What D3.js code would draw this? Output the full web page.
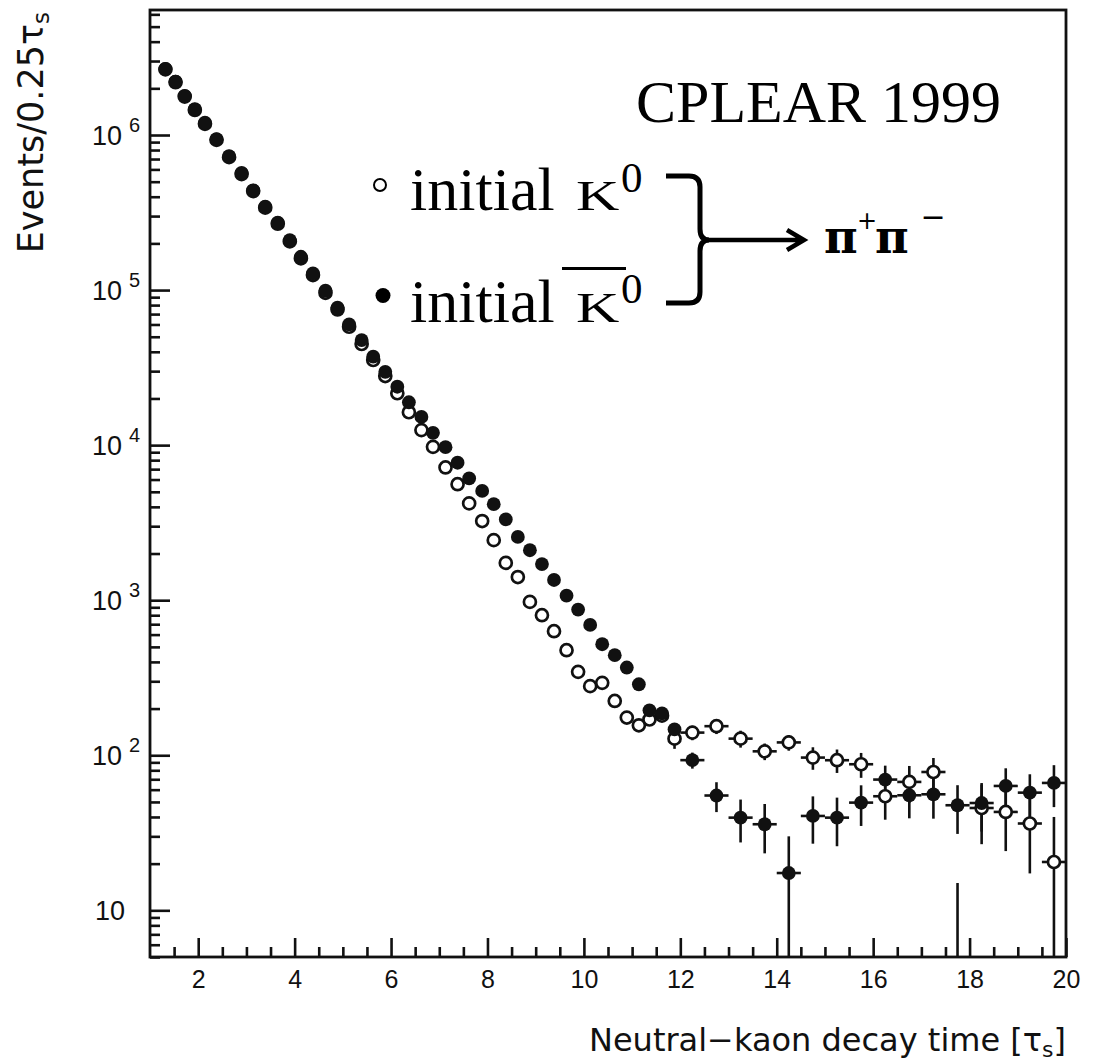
<!DOCTYPE html>
<html><head><meta charset="utf-8">
<script src="https://cdn.jsdelivr.net/npm/d3@7"></script>
<style>html,body{margin:0;padding:0;background:#fff}</style>
</head><body>
<svg id="chart" width="1097" height="1063"></svg>
<script>
// ---- data ----
const times = [
  1.32, 1.53, 1.72, 1.93, 2.14, 2.38, 2.64, 2.90, 3.14, 3.39,
  3.65, 3.90, 4.13, 4.38, 4.64, 4.89, 5.13, 5.39, 5.63, 5.88,
  6.13, 6.37, 6.63, 6.87, 7.13, 7.38, 7.62, 7.89, 8.13, 8.38,
  8.63, 8.88, 9.13, 9.38, 9.64, 9.88, 10.13, 10.38, 10.64, 10.89,
  11.14, 11.36, 11.62, 11.88, 12.25, 12.75, 13.25, 13.75, 14.25, 14.75,
  15.25, 15.75, 16.25, 16.75, 17.25, 17.75, 18.25, 18.75, 19.25, 19.75
];
const binWidths = [
  0.25,0.25,0.25,0.25,0.25,0.25,0.25,0.25,0.25,0.25,
  0.25,0.25,0.25,0.25,0.25,0.25,0.25,0.25,0.25,0.25,
  0.25,0.25,0.25,0.25,0.25,0.25,0.25,0.25,0.25,0.25,
  0.25,0.25,0.25,0.25,0.25,0.25,0.25,0.25,0.25,0.25,
  0.25,0.25,0.25,0.25,0.5,0.5,0.5,0.5,0.5,0.5,
  0.5,0.5,0.5,0.5,0.5,0.5,0.5,0.5,0.5,0.5
];
// initial K0bar (filled circles)
const initialK0bar = [
  2.67e6, 2.21e6, 1.79e6, 1.47e6, 1.20e6, 9.4e5, 7.3e5, 5.7e5, 4.4e5, 3.45e5,
  2.72e5, 2.10e5, 1.64e5, 1.28e5, 9.9e4, 7.7e4, 6.0e4, 4.76e4, 3.72e4, 2.97e4,
  2.38e4, 1.89e4, 1.52e4, 1.20e4, 9700, 7700, 6100, 5070, 4160, 3320,
  2560, 2100, 1710, 1350, 1070, 870, 693, 520, 442, 368,
  287, 195, 186, 147, 93, 55, 39.6, 35.9, 17.4, 40.6,
  39.6, 49.5, 69.7, 55.2, 56, 47.6, 49.2, 63.4, 57.4, 66.3
];
const initialK0barErr = [
  0,0,0,0,0,0,0,0,0,0,
  0,0,0,0,0,0,0,0,0,0,
  0,0,0,0,0,0,0,0,0,0,
  0,0,0,0,0,0,9,8,8,7,
  12,11,11,10,11,12,12.2,12.6,12.6,13.7,
  13.7,14.5,16,16,17,16.5,17,19,18,20
];
// initial K0 (open circles)
const initialK0 = [
  2.65e6, 2.19e6, 1.77e6, 1.45e6, 1.18e6, 9.3e5, 7.2e5, 5.6e5, 4.35e5, 3.4e5,
  2.68e5, 2.06e5, 1.6e5, 1.25e5, 9.6e4, 7.5e4, 5.8e4, 4.49e4, 3.54e4, 2.79e4,
  2.16e4, 1.63e4, 1.25e4, 9750, 7180, 5600, 4210, 3240, 2440, 1740,
  1410, 975, 800, 631, 476, 345, 279, 293, 224, 175,
  156, 170, 180, 128, 140, 154, 128, 106, 121, 96.6,
  92.9, 87.5, 54.4, 67.3, 78, 0, 45.7, 43.1, 36.3, 20.5
];
const initialK0Err = [
  0,0,0,0,0,0,0,0,0,0,
  0,0,0,0,0,0,0,0,0,0,
  0,0,0,0,0,0,0,0,0,0,
  0,0,0,0,0,0,13,14,12,11,
  11,12,12,18,15,17,16,13,14,16,
  16,16,16,18,18,15,19,19,19,19.5
];
const xTickValues = [2, 4, 6, 8, 10, 12, 14, 16, 18, 20];
const xTickLabels = ["2", "4", "6", "8", "10", "12", "14", "16", "18", "20"];
const yTickValues = [10, 1e2, 1e3, 1e4, 1e5, 1e6];
const yTickExponents = ["", "2", "3", "4", "5", "6"];

// ---- layout ----
const svg = d3.select("#chart");
const L = 150, R = 1066, T = 10, B = 957;
const x = d3.scaleLinear().domain([1, 20]).range([L, R]);
const y = d3.scaleLog().domain([5, 6.4e6]).range([B, T]);
const ink = "#111";

svg.append("rect").attr("width", 1097).attr("height", 1063).attr("fill", "#fff");
svg.append("defs").append("clipPath").attr("id", "plotclip")
  .append("rect").attr("x", L).attr("y", T).attr("width", R - L).attr("height", B - T);

// x axis ticks (inward)
const xMinor = d3.range(1.5, 20, 0.5).filter(v => Math.abs(v - Math.round(v / 2) * 2) > 1e-9);
const gxMinor = svg.append("g").attr("transform", `translate(0,${B})`)
  .call(d3.axisBottom(x).tickValues(xMinor).tickSize(-10).tickFormat(""));
const gx = svg.append("g").attr("transform", `translate(0,${B})`)
  .call(d3.axisBottom(x).tickValues(xTickValues).tickSize(-19)
    .tickFormat((d, i) => xTickLabels[i]));
[gxMinor, gx].forEach(g => {
  g.select(".domain").remove();
  g.selectAll("line").attr("stroke", ink).attr("stroke-width", 2.6);
});
gx.selectAll("text").attr("y", 31).attr("dy", null)
  .attr("font-family", "'Liberation Sans', Arial, sans-serif")
  .attr("font-size", 25).attr("fill", ink);

// y axis ticks (inward)
const yMinor = y.ticks().filter(v => {
  const m = v / Math.pow(10, Math.floor(Math.log10(v) + 1e-9));
  return Math.abs(m - 1) > 1e-6;
});
const gyMinor = svg.append("g").attr("transform", `translate(${L},0)`)
  .call(d3.axisLeft(y).tickValues(yMinor).tickSize(-10).tickFormat(""));
const gy = svg.append("g").attr("transform", `translate(${L},0)`)
  .call(d3.axisLeft(y).tickValues(yTickValues).tickSize(-20).tickFormat(""));
[gyMinor, gy].forEach(g => {
  g.select(".domain").remove();
  g.selectAll("line").attr("stroke", ink).attr("stroke-width", 2.6);
});
const ylab = svg.append("g")
  .attr("font-family", "'Liberation Sans', Arial, sans-serif").attr("fill", ink);
yTickValues.forEach((v, i) => {
  const e = yTickExponents[i];
  ylab.append("text").attr("x", e ? 122 : 125).attr("y", y(v) + 10)
    .attr("text-anchor", "end").attr("font-size", 27).text("10");
  if (e) ylab.append("text").attr("x", 129).attr("y", y(v) - 3)
    .attr("font-size", 20).text(e);
});

// frame
svg.append("rect").attr("x", L).attr("y", T).attr("width", R - L).attr("height", B - T)
  .attr("fill", "none").attr("stroke", ink).attr("stroke-width", 2.8);

// axis titles
const titleFont = "'DejaVu Sans', sans-serif";
const xt = svg.append("text").attr("x", R).attr("y", 1051).attr("text-anchor", "end")
  .attr("font-family", titleFont).attr("font-size", 32).attr("fill", ink);
xt.append("tspan").text("Neutral\u2212kaon decay time [\u03c4");
xt.append("tspan").attr("font-size", 22).attr("dy", 6).text("s");
xt.append("tspan").attr("dy", -6).text("]");

const yt = svg.append("text").attr("transform", "translate(43,12) rotate(-90)")
  .attr("text-anchor", "end").attr("font-family", titleFont)
  .attr("font-size", 35).attr("fill", ink);
yt.append("tspan").text("Events/0.25\u03c4");
yt.append("tspan").attr("font-size", 23).attr("dy", 6).text("s");

// ---- data marks ----
const plot = svg.append("g").attr("clip-path", "url(#plotclip)");
function series(vals, errs) {
  return times.map((t, i) => ({ t, v: vals[i], e: errs[i], w: binWidths[i] }));
}
const openData = series(initialK0, initialK0Err);
const fullData = series(initialK0bar, initialK0barErr);
const yMin = y.domain()[0];

function drawBars(data) {
  const g = plot.append("g").attr("stroke", ink).attr("stroke-width", 2.6);
  data.forEach(d => {
    const hi = d.v + d.e, lo = Math.max(d.v - d.e, yMin * 0.5);
    if (d.e > 0) g.append("line").attr("x1", x(d.t)).attr("x2", x(d.t))
      .attr("y1", y(Math.max(hi, yMin * 0.5))).attr("y2", y(lo));
    if (d.v > yMin) g.append("line").attr("x1", x(d.t - d.w / 2)).attr("x2", x(d.t + d.w / 2))
      .attr("y1", y(d.v)).attr("y2", y(d.v));
  });
}
drawBars(openData);
drawBars(fullData);

plot.append("g").selectAll("circle").data(openData.filter(d => d.v > yMin)).join("circle")
  .attr("cx", d => x(d.t)).attr("cy", d => y(d.v)).attr("r", 6)
  .attr("fill", "#fff").attr("stroke", ink).attr("stroke-width", 2.7);
plot.append("g").selectAll("circle").data(fullData.filter(d => d.v > yMin)).join("circle")
  .attr("cx", d => x(d.t)).attr("cy", d => y(d.v)).attr("r", 6.9)
  .attr("fill", ink);

// ---- annotations ----
const serif = "'Liberation Serif', 'Times New Roman', serif";
svg.append("text").attr("x", 636).attr("y", 121.5).attr("font-family", serif)
  .attr("font-size", 60).attr("fill", "#000").text("CPLEAR 1999");

// legend
svg.append("circle").attr("cx", 380).attr("cy", 185).attr("r", 6)
  .attr("fill", "none").attr("stroke", "#000").attr("stroke-width", 2);
svg.append("circle").attr("cx", 383).attr("cy", 295.5).attr("r", 7.5).attr("fill", "#000");

[[210, 192, false], [321.7, 303, true]].forEach(([base, supBase, bar]) => {
  svg.append("text").attr("x", 410).attr("y", base).attr("font-family", serif)
    .attr("font-size", 62).attr("fill", "#000").text("initial");
  svg.append("text").attr("transform", `translate(576,${base}) scale(1,0.71)`)
    .attr("font-family", serif).attr("font-size", 60).attr("fill", "#000").text("K");
  svg.append("text").attr("x", 621).attr("y", supBase).attr("font-family", serif)
    .attr("font-size", 43).attr("fill", "#000").text("0");
  if (bar) svg.append("line").attr("x1", 562).attr("x2", 626)
    .attr("y1", 268.5).attr("y2", 268.5).attr("stroke", "#000").attr("stroke-width", 2.8);
});

// brace + arrow
svg.append("path")
  .attr("d", "M666,176 L689,176 Q700,176 700,187 L700,229 Q700,240 709,240 Q700,240 700,251 L700,292 Q700,303 689,303 L666,303")
  .attr("fill", "none").attr("stroke", "#000").attr("stroke-width", 5);
svg.append("path").attr("d", "M707,240 L803,240 M787,230 L804,240 L787,250")
  .attr("fill", "none").attr("stroke", "#000").attr("stroke-width", 4.5)
  .attr("stroke-linejoin", "miter");

const piFont = "'DejaVu Serif', serif";
const pp = svg.append("g").attr("fill", "#000");
pp.append("text").attr("x", 824).attr("y", 253.3).attr("font-family", piFont)
  .attr("font-size", 46).attr("font-weight", "bold").text("\u03c0");
pp.append("text").attr("x", 867).attr("y", 229).attr("text-anchor", "middle")
  .attr("font-family", "'DejaVu Sans', sans-serif").attr("font-size", 24).text("+");
pp.append("text").attr("x", 875).attr("y", 253.3).attr("font-family", piFont)
  .attr("font-size", 46).attr("font-weight", "bold").text("\u03c0");
pp.append("text").attr("x", 933).attr("y", 227).attr("text-anchor", "middle")
  .attr("font-family", "'DejaVu Sans', sans-serif").attr("font-size", 30).text("\u2212");
</script>
</body></html>
